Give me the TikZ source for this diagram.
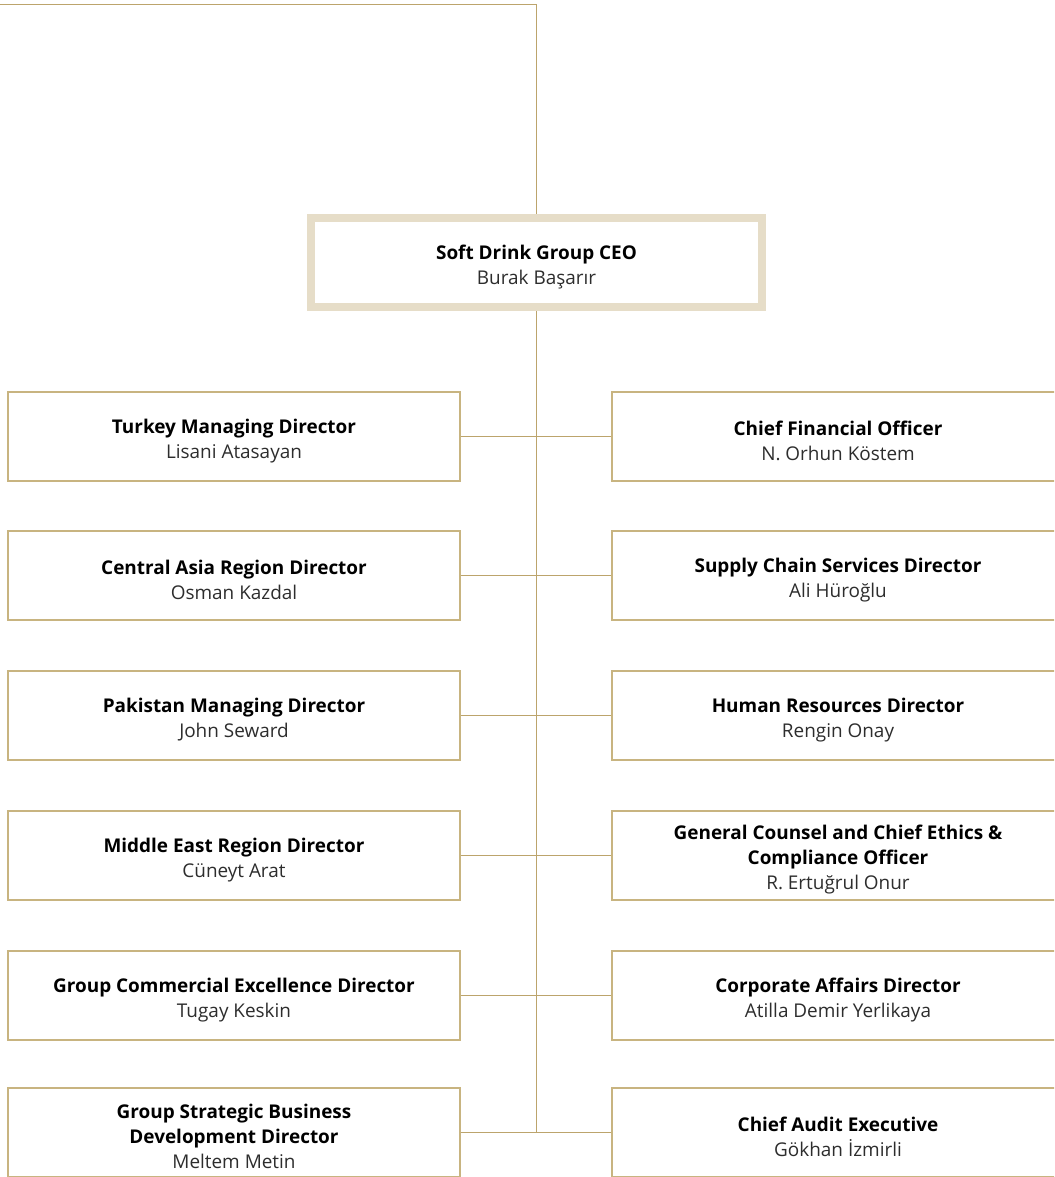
\documentclass[tikz,border=0pt]{standalone}
\usepackage{fontspec}
\setmainfont{Open Sans}
\usetikzlibrary{positioning}
\definecolor{linegold}{RGB}{188,164,108}
\definecolor{boxgold}{RGB}{200,180,128}
\definecolor{ceobeige}{RGB}{230,221,200}
\definecolor{namegray}{RGB}{45,45,45}

\begin{document}
\begin{tikzpicture}[
        x=0.75pt,y=-0.75pt,
        postnode/.style={rectangle, draw=boxgold, line width=1.1pt, fill=white, minimum width=339pt, minimum height=66.75pt, inner sep=0pt},
        ceonode/.style={postnode, draw=ceobeige, line width=6pt, minimum width=338.25pt, minimum height=66.75pt},
        posttext/.style={align=center, inner sep=0pt, yshift=-3.2pt, font=\fontsize{14.2}{18.75}\selectfont},
        link/.style={draw=linegold, line width=0.8pt},
    ]
    \path[use as bounding box, clip] (0,0) rectangle (1054,1177);
    % top line and CEO
    \coordinate (topleft) at (0,4.5);
    \node[ceonode, label={[posttext]center:\textbf{Soft Drink Group CEO}\\{\color{namegray}Burak Başarır}}] (ceo) at (536.5,262.5) {};
    % left column
    \node[postnode, label={[posttext]center:\textbf{Turkey Managing Director}\\{\color{namegray}Lisani Atasayan}}] (l1) at (234,436.5) {};
    \node[postnode, label={[posttext]center:\textbf{Central Asia Region Director}\\{\color{namegray}Osman Kazdal}}] (l2) at (234,575.5) {};
    \node[postnode, label={[posttext]center:\textbf{Pakistan Managing Director}\\{\color{namegray}John Seward}}] (l3) at (234,715.5) {};
    \node[postnode, label={[posttext]center:\textbf{Middle East Region Director}\\{\color{namegray}Cüneyt Arat}}] (l4) at (234,855.5) {};
    \node[postnode, label={[posttext]center:\textbf{Group Commercial Excellence Director}\\{\color{namegray}Tugay Keskin}}] (l5) at (234,995.5) {};
    \node[postnode, label={[posttext]center:\textbf{Group Strategic Business}\\\textbf{Development Director}\\{\color{namegray}Meltem Metin}}] (l6) at (234,1132.5) {};
    % right column
    \node[postnode, label={[posttext]center:\textbf{Chief Financial Officer}\\{\color{namegray}N. Orhun Köstem}}] (r1) at (838,436.5) {};
    \node[postnode, label={[posttext]center:\textbf{Supply Chain Services Director}\\{\color{namegray}Ali Hüroğlu}}] (r2) at (838,575.5) {};
    \node[postnode, label={[posttext]center:\textbf{Human Resources Director}\\{\color{namegray}Rengin Onay}}] (r3) at (838,715.5) {};
    \node[postnode, label={[posttext]center:\textbf{General Counsel and Chief Ethics \&}\\\textbf{Compliance Officer}\\{\color{namegray}R. Ertuğrul Onur}}] (r4) at (838,855.5) {};
    \node[postnode, label={[posttext]center:\textbf{Corporate Affairs Director}\\{\color{namegray}Atilla Demir Yerlikaya}}] (r5) at (838,995.5) {};
    \node[postnode, label={[posttext]center:\textbf{Chief Audit Executive}\\{\color{namegray}Gökhan İzmirli}}] (r6) at (838,1132.5) {};
    % connectors
    \draw[link] (topleft) -| (ceo.north);
    \draw[link] (ceo.south) -- (ceo.south |- l6.east);
    \foreach \i in {1,...,6}
        \draw[link] (l\i.east) -- (r\i.west);
\end{tikzpicture}
\end{document}
